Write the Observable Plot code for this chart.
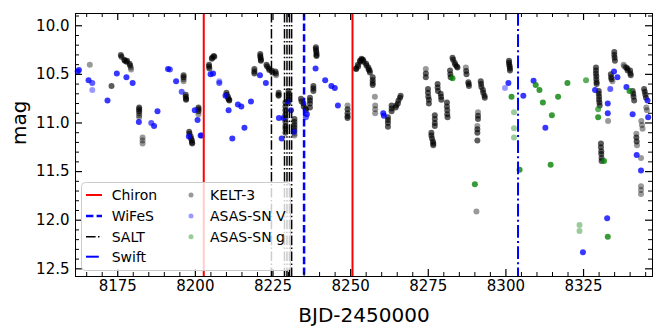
<!DOCTYPE html>
<html><head><meta charset="utf-8">
<script src="https://cdn.jsdelivr.net/npm/d3@7"></script>
<script src="https://cdn.jsdelivr.net/npm/@observablehq/plot@0.6"></script>
<style>
body{margin:0;background:#fff;font-family:"DejaVu Sans",sans-serif}
#wrap{position:relative;width:664px;height:332px}
#legend{position:absolute;left:81px;top:182px}
</style>
</head><body>
<div id="wrap"><div id="chart"></div></div>
<script>
// Observation epochs (BJD-2450000)
const chiron = [8202.7, 8250.6];
const wifes = [8235.0];
const salt = [8224.5, 8228.7, 8229.5, 8230.3, 8231.0];
const swift = [8303.9];

// Tick values
const xTicks = [8175, 8200, 8225, 8250, 8275, 8300, 8325];
const xMinor = [8165,8170,8180,8185,8190,8195,8205,8210,8215,8220,8230,8235,8240,8245,8255,8260,8265,8270,8280,8285,8290,8295,8305,8310,8315,8320,8330,8335,8340,8345];
const yTicks = [10.0, 10.5, 11.0, 11.5, 12.0, 12.5];
const yMinor = [9.9,10.1,10.2,10.3,10.4,10.6,10.7,10.8,10.9,11.1,11.2,11.3,11.4,11.6,11.7,11.8,11.9,12.1,12.2,12.3,12.4];

// KELT-3 photometry [BJD, mag, overlapping exposures]
const kelt = [
[8166.0,10.40,1],[8173.0,10.62,2],
[8176.0,10.30,2],[8176.2,10.32,2],[8177.1,10.35,2],[8177.3,10.36,2],[8177.8,10.37,2],[8178.0,10.36,2],[8178.8,10.39,2],[8179.0,10.41,2],[8179.2,10.43,1],[8179.3,10.45,1],
[8181.9,10.84,2],[8181.9,10.86,2],[8181.9,10.88,2],[8181.9,10.90,1],[8181.9,10.92,1],[8181.9,10.94,1],
[8183.0,11.15,1],[8183.0,11.18,1],[8183.0,11.21,1],
[8196.2,10.51,2],[8196.2,10.53,2],[8196.2,10.55,1],[8196.2,10.57,1],
[8196.9,10.71,2],[8196.9,10.73,2],[8197.0,10.75,2],[8197.0,10.76,2],
[8198.0,11.09,2],[8198.1,11.11,2],[8198.5,11.14,2],[8198.6,11.16,2],[8198.9,11.18,2],[8198.9,11.20,2],[8199.0,11.21,2],
[8201.0,10.84,2],[8201.0,10.86,2],[8201.0,10.88,2],[8201.0,10.91,1],
[8204.4,10.40,2],[8204.4,10.42,2],[8204.5,10.44,2],[8205.3,10.34,2],[8205.4,10.33,2],[8205.9,10.31,2],[8206.1,10.32,2],
[8210.0,10.69,2],[8210.1,10.71,2],[8210.5,10.73,2],[8210.6,10.75,2],[8210.9,10.76,2],[8210.9,10.77,2],
[8219.0,10.445,2],[8219.0,10.47,2],[8219.0,10.49,2],
[8220.9,10.29,2],[8220.9,10.31,2],[8221.0,10.33,2],[8221.1,10.35,2],[8221.1,10.36,2],
[8222.9,10.40,2],[8223.1,10.42,2],[8223.7,10.44,2],[8223.8,10.455,2],
[8224.6,10.46,2],[8224.8,10.48,2],[8225.8,10.47,2],[8225.9,10.49,2],[8226.0,10.51,1],
[8226.8,10.69,2],[8226.8,10.71,2],[8226.8,10.72,2],
[8229.0,10.79,2],[8229.0,10.83,2],[8229.0,10.87,2],[8229.0,10.91,2],[8229.0,10.95,2],[8229.0,10.99,2],[8229.0,11.03,2],[8229.0,11.06,2],[8229.0,11.10,2],
[8230.0,10.67,2],[8230.0,10.70,2],[8230.0,10.73,2],[8230.0,10.76,2],[8230.0,10.79,2],
[8231.9,10.96,2],[8231.9,10.99,2],[8231.9,11.02,2],[8231.9,11.05,2],[8231.9,11.08,2],[8231.9,11.11,1],[8231.9,11.13,1],
[8234.0,10.75,2],[8234.2,10.78,2],[8234.8,10.80,2],[8234.9,10.83,2],[8235.5,10.85,2],[8235.6,10.87,2],
[8236.9,10.74,2],[8236.9,10.77,2],[8236.9,10.80,2],[8236.9,10.84,2],
[8238.0,10.62,2],[8238.0,10.645,2],[8238.0,10.67,2],
[8238.8,10.22,2],[8238.8,10.24,2],[8238.9,10.26,2],[8239.0,10.28,2],[8239.0,10.30,2],[8239.0,10.31,2],
[8249.0,10.82,1],[8249.0,10.86,2],[8249.0,10.90,2],[8249.0,10.93,2],[8249.0,10.95,2],
[8251.7,10.44,2],[8251.8,10.445,2],[8252.3,10.40,2],[8252.4,10.42,2],[8253.0,10.36,2],[8253.1,10.37,2],[8253.5,10.34,2],[8253.6,10.35,2],
[8254.0,10.35,2],[8254.2,10.37,2],[8255.0,10.39,2],[8255.1,10.41,2],[8255.7,10.43,2],[8255.8,10.45,2],[8256.1,10.46,2],[8256.2,10.48,2],
[8257.1,10.53,2],[8257.1,10.56,2],[8257.1,10.59,2],[8257.1,10.61,2],
[8257.8,10.73,1],
[8257.9,10.82,1],[8257.9,10.86,1],[8257.9,10.90,1],
[8262.0,10.94,2],[8262.0,10.97,2],[8262.0,11.00,2],[8262.0,11.04,2],
[8263.2,10.82,2],[8263.2,10.85,2],[8263.2,10.88,2],
[8264.5,10.84,2],[8264.7,10.82,2],[8265.2,10.80,2],[8265.4,10.77,2],[8265.9,10.74,2],[8266.1,10.72,2],
[8274.2,10.445,1],[8274.2,10.49,2],[8274.2,10.53,2],
[8274.9,10.65,2],[8274.9,10.69,2],[8275.0,10.73,2],[8275.2,10.76,2],[8275.2,10.80,2],
[8276.0,11.10,2],[8276.0,11.13,2],[8276.2,11.16,2],[8276.5,11.19,2],[8276.6,11.21,2],[8276.6,11.23,2],
[8277.1,10.92,2],[8277.1,10.96,2],[8277.1,11.00,2],[8277.1,11.03,2],
[8278.0,10.60,2],[8278.0,10.635,2],[8278.1,10.67,2],
[8279.0,10.70,2],[8279.1,10.73,2],[8279.2,10.76,2],
[8281.0,10.79,2],[8281.0,10.83,2],[8281.1,10.87,2],[8281.1,10.91,2],[8281.2,10.94,2],
[8282.0,10.46,2],[8282.1,10.50,2],[8282.2,10.53,2],
[8282.8,10.33,2],[8283.0,10.35,2],[8283.5,10.38,2],[8283.7,10.40,2],[8284.2,10.42,2],[8284.4,10.43,2],
[8287.1,10.43,1],[8287.2,10.465,2],[8287.3,10.50,2],
[8287.9,10.58,2],[8288.0,10.60,2],[8288.1,10.62,2],
[8291.9,10.57,2],[8292.0,10.60,2],[8292.1,10.63,2],[8292.6,10.66,2],[8292.7,10.69,2],[8293.1,10.72,2],[8293.2,10.74,2],
[8291.0,10.89,1],[8291.0,10.925,2],[8291.0,10.96,2],
[8290.8,11.03,1],[8290.8,11.065,2],[8290.8,11.10,2],
[8290.8,11.18,2],[8290.5,11.91,1],
[8301.0,10.36,2],[8301.0,10.38,2],[8301.1,10.40,2],[8301.2,10.42,2],[8301.3,10.44,2],[8301.3,10.46,2],
[8329.0,10.43,2],[8329.0,10.46,2],[8329.0,10.49,2],[8329.1,10.52,2],[8329.1,10.55,2],[8329.2,10.58,2],[8329.2,10.60,2],
[8329.9,10.67,2],[8329.9,10.70,2],[8330.0,10.73,2],[8330.0,10.76,2],[8330.1,10.79,2],[8330.2,10.82,2],
[8332.9,10.98,1],
[8330.6,11.21,2],[8330.6,11.25,2],[8330.7,11.29,2],[8330.7,11.32,2],[8330.8,11.36,2],[8330.8,11.39,2],
[8333.8,10.50,2],[8333.9,10.53,2],[8334.0,10.55,2],[8334.3,10.57,1],
[8334.9,10.27,2],[8334.9,10.30,2],[8335.0,10.33,2],[8335.1,10.36,2],
[8337.9,10.40,1],[8338.1,10.42,1],[8338.7,10.43,2],[8339.1,10.44,2],[8339.2,10.46,2],
[8340.0,10.46,2],[8340.1,10.49,2],[8340.2,10.51,2],
[8340.8,10.67,2],[8341.0,10.70,2],[8341.1,10.73,2],[8341.3,10.77,2],
[8342.0,11.11,1],[8342.0,11.15,2],[8342.1,11.19,2],[8342.2,11.23,1],
[8343.6,10.98,1],[8343.8,11.02,1],[8344.0,11.06,1],
[8343.5,11.36,1],
[8343.5,11.65,1],[8343.5,11.69,1],[8343.5,11.73,1],
[8344.5,10.65,2],[8344.7,10.68,2],[8344.9,10.71,2],[8345.1,10.74,2],
[8345.2,10.84,1],[8345.4,10.87,1]
];

// ASAS-SN V [BJD, mag, overlapping exposures]
const asasV = [
[8162.1,10.47,3],[8162.5,10.455,3],[8165.6,10.56,3],[8166.8,10.59,2],[8166.8,10.66,1],
[8171.7,10.77,3],[8174.7,10.49,3],[8177.8,10.53,3],[8179.8,10.59,3],[8181.8,10.99,3],
[8185.8,11.00,2],[8186.7,11.03,3],[8187.8,10.88,3],[8191.2,10.445,3],[8191.8,10.45,2],
[8193.8,10.57,3],[8195.6,10.68,2],[8197.9,11.14,3],[8199.8,10.87,3],[8200.7,10.97,3],
[8201.7,11.13,3],[8202.0,11.13,2],[8204.9,10.50,3],[8205.7,10.49,3],[8207.7,10.57,1],[8207.7,10.59,2],
[8209.7,10.72,3],[8210.7,10.87,3],[8211.9,11.16,3],[8213.7,10.81,3],[8214.8,10.83,3],
[8215.8,11.05,3],[8217.9,10.78,3],[8220.8,10.51,3],[8222.7,10.59,3],[8226.9,10.95,3],
[8227.8,11.16,3],[8228.4,10.95,3],[8229.7,10.78,3],[8230.8,10.87,3],[8231.7,11.09,3],
[8235.9,10.91,3],[8235.6,10.94,2],[8238.7,10.44,3],[8241.8,10.56,3],[8243.8,10.62,3],
[8244.9,10.64,3],[8245.9,10.82,3],[8260.5,10.90,3],[8260.7,10.925,3],
[8299.7,10.64,1],[8300.8,10.59,3],[8305.6,10.72,3],[8308.9,10.565,3],[8312.7,11.05,3],
[8324.8,12.33,3],[8328.7,10.66,3],[8332.8,10.80,3],[8332.8,10.90,3],[8332.6,11.98,3],
[8333.6,10.65,2],[8334.8,10.47,3],[8335.9,10.53,3],[8338.8,10.63,3],[8340.8,10.91,3],
[8342.1,11.33,3],[8343.5,11.49,3],[8345.6,10.77,3],[8345.8,10.94,3]
];

// ASAS-SN g [BJD, mag, overlapping exposures]
const asasG = [
[8282.8,10.54,3],[8290.0,11.63,3],[8301.8,10.73,3],[8302.6,10.89,1],[8302.6,11.055,1],
[8302.6,11.15,1],[8304.4,11.48,3],[8309.6,10.61,3],[8310.8,10.66,3],[8311.9,10.79,3],
[8314.4,11.43,3],[8314.8,10.92,3],[8316.8,10.73,3],[8319.8,10.59,3],[8323.7,12.05,1],
[8323.7,12.11,1],[8325.8,10.56,2],[8329.7,10.86,2],[8329.7,10.94,3],[8331.6,11.39,3],
[8332.8,12.17,3],[8339.8,10.67,3]
];

const W = 664, H = 332, ML = 75, MR = 12, MT = 13, MB = 56;
const FW = W - ML - MR, FH = H - MT - MB;
const alpha = n => 1 - Math.pow(0.6, n);

const chart = Plot.plot({
  width: W, height: H,
  marginLeft: ML, marginRight: MR, marginTop: MT, marginBottom: MB,
  style: {fontFamily: "DejaVu Sans", fontSize: "15px", color: "black", background: "white"},
  x: {domain: [8161.4, 8347.2]},
  y: {domain: [9.874, 12.579], reverse: true},
  marks: [
    Plot.dot(kelt, {x: d => d[0], y: d => d[1], r: 3, fill: "black", fillOpacity: d => alpha(d[2])}),
    Plot.dot(asasV, {x: d => d[0], y: d => d[1], r: 3, fill: "blue", fillOpacity: d => alpha(d[2])}),
    Plot.dot(asasG, {x: d => d[0], y: d => d[1], r: 3, fill: "green", fillOpacity: d => alpha(d[2])}),
    Plot.ruleX(chiron, {stroke: "red", strokeWidth: 2}),
    Plot.ruleX(wifes, {stroke: "blue", strokeWidth: 2.5, strokeDasharray: "7.4,3.2"}),
    Plot.ruleX(salt, {stroke: "black", strokeWidth: 1.5, strokeDasharray: "9.6,2.4,1.5,2.4"}),
    Plot.ruleX(swift, {stroke: "blue", strokeWidth: 2, strokeDasharray: "12.8,3.2,2,3.2"}),
    // inward ticks on all four sides
    Plot.tickX(xTicks, {x: d => d, insetTop: FH - 7, stroke: "black", strokeWidth: 1.2}),
    Plot.tickX(xTicks, {x: d => d, insetBottom: FH - 7, stroke: "black", strokeWidth: 1.2}),
    Plot.tickX(xMinor, {x: d => d, insetTop: FH - 4, stroke: "black"}),
    Plot.tickX(xMinor, {x: d => d, insetBottom: FH - 4, stroke: "black"}),
    Plot.tickY(yTicks, {y: d => d, insetRight: FW - 7, stroke: "black", strokeWidth: 1.2}),
    Plot.tickY(yTicks, {y: d => d, insetLeft: FW - 7, stroke: "black", strokeWidth: 1.2}),
    Plot.tickY(yMinor, {y: d => d, insetRight: FW - 4, stroke: "black"}),
    Plot.tickY(yMinor, {y: d => d, insetLeft: FW - 4, stroke: "black"}),
    Plot.axisX(xTicks, {tickSize: 0, tickPadding: 4, tickFormat: d => String(d), label: null}),
    Plot.axisY(yTicks, {tickSize: 0, tickPadding: 6, tickFormat: d => d.toFixed(1), label: null}),
    Plot.frame({stroke: "black", strokeWidth: 1}),
    Plot.text(["BJD-2450000"], {text: d => d, frameAnchor: "bottom", dy: 39, fontSize: 20, lineAnchor: "middle"}),
    Plot.text(["mag"], {text: d => d, frameAnchor: "left", dx: -56, rotate: -90, fontSize: 20, lineAnchor: "middle"})
  ]
});
document.getElementById("chart").appendChild(chart);

// Legend
const lineItems = [
  {label: "Chiron", stroke: "red", width: 2, dash: null},
  {label: "WiFeS", stroke: "blue", width: 2.5, dash: "7.4,3.2"},
  {label: "SALT", stroke: "black", width: 1.5, dash: "9.6,2.4,1.5,2.4"},
  {label: "Swift", stroke: "blue", width: 2, dash: "12.8,3.2,2,3.2"}
];
const dotItems = [
  {label: "KELT-3", fill: "black"},
  {label: "ASAS-SN V", fill: "blue"},
  {label: "ASAS-SN g", fill: "green"}
];
const rowY = [13, 34, 54.7, 74.7];
const leg = d3.select("#wrap").append("svg").attr("id", "legend").attr("width", 211).attr("height", 90);
leg.append("rect").attr("x", 0.5).attr("y", 0.5).attr("width", 209).attr("height", 88)
  .attr("rx", 4).attr("fill", "white").attr("fill-opacity", 0.8).attr("stroke", "#cccccc");
lineItems.forEach((it, i) => {
  const l = leg.append("line").attr("x1", 5).attr("x2", 21).attr("y1", rowY[i]).attr("y2", rowY[i])
    .attr("stroke", it.stroke).attr("stroke-width", it.width);
  if (it.dash) l.attr("stroke-dasharray", it.dash);
  leg.append("text").attr("x", 30.7).attr("y", rowY[i]).attr("dy", "0.35em")
    .attr("font-family", "DejaVu Sans").attr("font-size", 14).text(it.label);
});
dotItems.forEach((it, i) => {
  leg.append("circle").attr("cx", 110).attr("cy", rowY[i]).attr("r", 2.5)
    .attr("fill", it.fill).attr("fill-opacity", 0.4);
  leg.append("text").attr("x", 129).attr("y", rowY[i]).attr("dy", "0.35em")
    .attr("font-family", "DejaVu Sans").attr("font-size", 14).text(it.label);
});
</script>
</body></html>
